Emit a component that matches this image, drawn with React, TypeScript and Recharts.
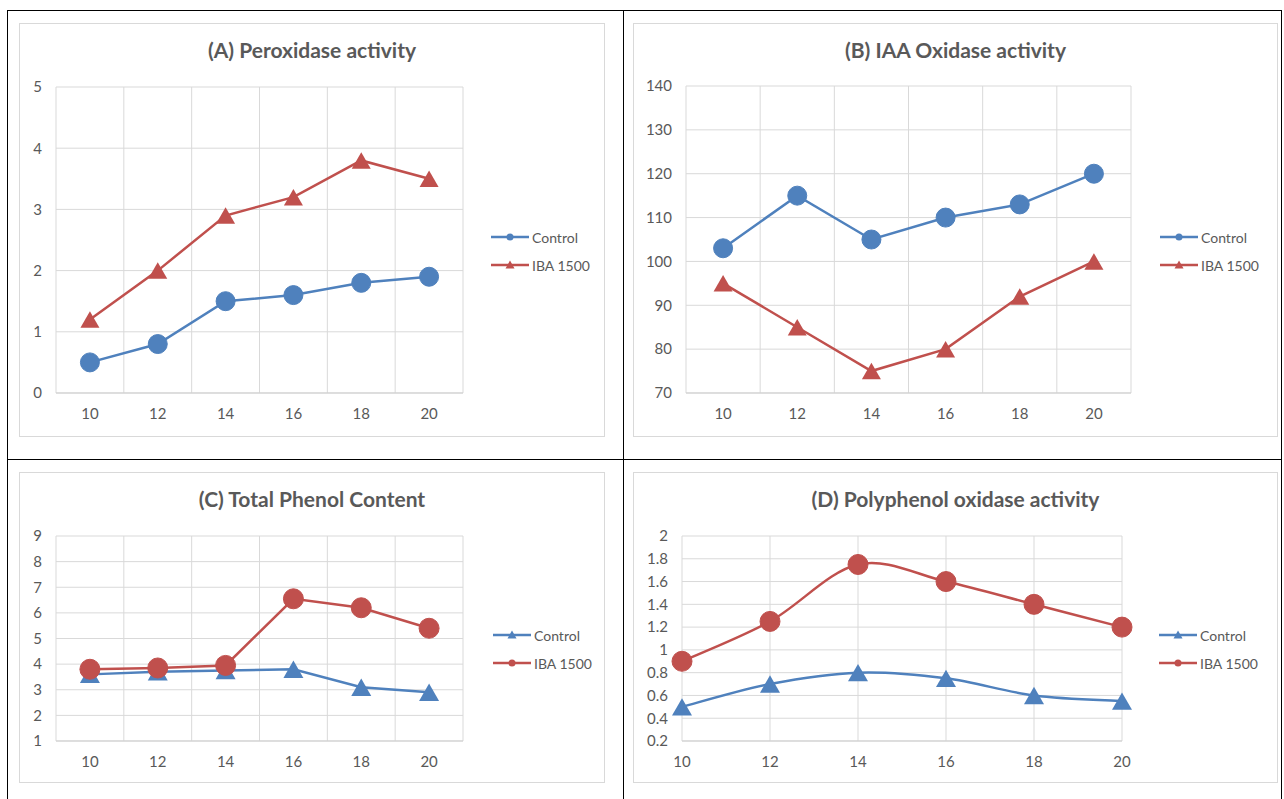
import { CartesianGrid, Legend, Line, LineChart, XAxis, YAxis } from 'recharts';

const days = [10, 12, 14, 16, 18, 20];

// (A) peroxidase
const peroxControl = [0.5, 0.8, 1.5, 1.6, 1.8, 1.9];
const peroxIba = [1.2, 2.0, 2.9, 3.2, 3.8, 3.5];
const peroxTicks = [0, 1, 2, 3, 4, 5];

// (B) IAA oxidase
const iaaControl = [103, 115, 105, 110, 113, 120];
const iaaIba = [95, 85, 75, 80, 92, 100];
const iaaTicks = [70, 80, 90, 100, 110, 120, 130, 140];

// (C) total phenol
const phenolControl = [3.6, 3.7, 3.75, 3.8, 3.1, 2.9];
const phenolIba = [3.8, 3.85, 3.95, 6.55, 6.2, 5.4];
const phenolTicks = [1, 2, 3, 4, 5, 6, 7, 8, 9];

// (D) polyphenol oxidase
const ppoControl = [0.5, 0.7, 0.8, 0.75, 0.6, 0.55];
const ppoIba = [0.9, 1.25, 1.75, 1.6, 1.4, 1.2];
const ppoTicks = [0.2, 0.4, 0.6, 0.8, 1.0, 1.2, 1.4, 1.6, 1.8, 2.0];

// gridlines sit between the categories (excel style) except in D
const bandEdges = [9, 11, 13, 15, 17, 19, 21];

const BLUE = '#4F81BD';
const RED = '#C0504D';
const TEXT = '#595959';
const GRID = '#D9D9D9';

// excel-ish smoothed line (catmull-rom as bezier)
const excelSmooth = (context: any) => {
  let pts: number[][] = [];
  return {
    areaStart() {},
    areaEnd() {},
    lineStart() {
      pts = [];
    },
    point(x: number, y: number) {
      pts.push([+x, +y]);
    },
    lineEnd() {
      if (!pts.length) return;
      context.moveTo(pts[0][0], pts[0][1]);
      for (let i = 0; i < pts.length - 1; i++) {
        const p0 = pts[Math.max(i - 1, 0)];
        const p1 = pts[i];
        const p2 = pts[i + 1];
        const p3 = pts[Math.min(i + 2, pts.length - 1)];
        context.bezierCurveTo(
          p1[0] + (p2[0] - p0[0]) / 6,
          p1[1] + (p2[1] - p0[1]) / 6,
          p2[0] - (p3[0] - p1[0]) / 6,
          p2[1] - (p3[1] - p1[1]) / 6,
          p2[0],
          p2[1]
        );
      }
    },
  };
};

type Shape = 'circle' | 'triangle';

const marker = (shape: Shape, color: string, size: number) => (props: any) => {
  const { cx, cy, index } = props;
  if (cx == null || cy == null) return <g key={index} />;
  if (shape === 'circle') {
    return <circle key={index} cx={cx} cy={cy} r={size / 2} fill={color} stroke={color} />;
  }
  const h = size * 0.87;
  const pts = `${cx},${cy - h / 2} ${cx - size / 2},${cy + h / 2} ${cx + size / 2},${cy + h / 2}`;
  return <polygon key={index} points={pts} fill={color} />;
};

type Series = { name: string; values: number[]; color: string; shape: Shape };

const LegendBox = ({ series }: { series: Series[] }) => (
  <div>
    {series.map((s) => (
      <div key={s.name} style={{ display: 'flex', alignItems: 'center', height: 28 }}>
        <svg width={38} height={14}>
          <line x1={0} y1={7} x2={38} y2={7} stroke={s.color} strokeWidth={2.5} />
          {s.shape === 'circle' ? (
            <circle cx={19} cy={7} r={3.5} fill={s.color} />
          ) : (
            <polygon points="19,2.5 14.5,10.5 23.5,10.5" fill={s.color} />
          )}
        </svg>
        <span style={{ fontSize: 14, color: TEXT, marginLeft: 3 }}>{s.name}</span>
      </div>
    ))}
  </div>
);

type PanelProps = {
  title: string;
  frame: { x: number; y: number; w: number; h: number };
  plot: { left: number; top: number; right: number; bottom: number };
  ticks: number[];
  series: Series[];
  band: boolean;
  smooth: boolean;
  legendPos: { left: number; top: number };
  markerSize: number;
};

const fmt = (v: number) => String(Math.round(v * 10) / 10);

const Panel = ({ title, frame, plot, ticks, series, band, smooth, legendPos, markerSize }: PanelProps) => {
  const yWidth = 30;
  const xHeight = 30;
  const rows = days.map((d, i) => {
    const row: any = { day: d };
    series.forEach((s) => (row[s.name] = s.values[i]));
    return row;
  });
  const xDomain = band ? [9, 21] : [10, 20];
  return (
    <div
      style={{
        position: 'absolute',
        left: frame.x,
        top: frame.y,
        width: frame.w,
        height: frame.h,
        background: '#fff',
        boxShadow: `inset 0 0 0 1px ${GRID}`,
      }}
    >
      <div
        style={{
          position: 'absolute',
          top: 14,
          width: '100%',
          textAlign: 'center',
          fontSize: 21,
          lineHeight: '26px',
          fontWeight: 700,
          color: TEXT,
        }}
      >
        {title}
      </div>
      <LineChart
        width={frame.w}
        height={frame.h}
        data={rows}
        margin={{
          top: plot.top - frame.y,
          left: plot.left - frame.x - yWidth,
          right: frame.x + frame.w - plot.right,
          bottom: frame.y + frame.h - plot.bottom - xHeight,
        }}
      >
        <CartesianGrid xAxisId="grid" stroke={GRID} strokeWidth={1} />
        <XAxis
          dataKey="day"
          type="number"
          domain={xDomain}
          ticks={days}
          interval={0}
          height={xHeight}
          tickLine={false}
          tickMargin={9}
          axisLine={{ stroke: '#CFCFCF' }}
          tick={{ fill: TEXT, fontSize: 15 }}
        />
        <XAxis xAxisId="grid" dataKey="day" type="number" domain={xDomain} ticks={band ? bandEdges : days} hide />
        <YAxis
          width={yWidth}
          domain={[ticks[0], ticks[ticks.length - 1]]}
          ticks={ticks}
          interval={0}
          axisLine={false}
          tickLine={false}
          tickMargin={8}
          tickFormatter={fmt}
          tick={{ fill: TEXT, fontSize: 15 }}
        />
        <Legend
          layout="vertical"
          align="center"
          verticalAlign="middle"
          wrapperStyle={{ left: legendPos.left, top: legendPos.top, width: 'auto' }}
          content={() => <LegendBox series={series} />}
        />
        {series.map((s) => (
          <Line
            key={s.name}
            dataKey={s.name}
            type={smooth ? (excelSmooth as any) : 'linear'}
            stroke={s.color}
            strokeWidth={2.5}
            dot={marker(s.shape, s.color, markerSize)}
            activeDot={false}
            isAnimationActive={false}
          />
        ))}
      </LineChart>
    </div>
  );
};

const rule = (style: any) => <div style={{ position: 'absolute', background: '#000', ...style }} />;

export default function App() {
  return (
    <div
      style={{
        position: 'absolute',
        left: 0,
        top: 0,
        width: 1284,
        height: 799,
        overflow: 'hidden',
        background: '#fff',
        fontFamily: 'Lato, "Open Sans", sans-serif',
      }}
    >
      {rule({ left: 7, top: 10, width: 1275, height: 1 })}
      {rule({ left: 7, top: 459, width: 1275, height: 1 })}
      {rule({ left: 7, top: 10, width: 1, height: 789 })}
      {rule({ left: 623, top: 10, width: 1, height: 789 })}
      {rule({ left: 1281, top: 10, width: 1, height: 789 })}

      <Panel
        title="(A) Peroxidase activity"
        frame={{ x: 19, y: 23, w: 586, h: 414 }}
        plot={{ left: 56, top: 87, right: 463, bottom: 393 }}
        ticks={peroxTicks}
        band
        smooth={false}
        markerSize={19}
        legendPos={{ left: 472, top: 200 }}
        series={[
          { name: 'Control', values: peroxControl, color: BLUE, shape: 'circle' },
          { name: 'IBA 1500', values: peroxIba, color: RED, shape: 'triangle' },
        ]}
      />
      <Panel
        title="(B) IAA Oxidase activity"
        frame={{ x: 633, y: 23, w: 645, h: 414 }}
        plot={{ left: 686, top: 86, right: 1131, bottom: 393 }}
        ticks={iaaTicks}
        band
        smooth={false}
        markerSize={19}
        legendPos={{ left: 527, top: 200 }}
        series={[
          { name: 'Control', values: iaaControl, color: BLUE, shape: 'circle' },
          { name: 'IBA 1500', values: iaaIba, color: RED, shape: 'triangle' },
        ]}
      />
      <Panel
        title="(C) Total Phenol Content"
        frame={{ x: 19, y: 472, w: 586, h: 311 }}
        plot={{ left: 56, top: 536, right: 463, bottom: 741 }}
        ticks={phenolTicks}
        band
        smooth={false}
        markerSize={20}
        legendPos={{ left: 474, top: 149 }}
        series={[
          { name: 'Control', values: phenolControl, color: BLUE, shape: 'triangle' },
          { name: 'IBA 1500', values: phenolIba, color: RED, shape: 'circle' },
        ]}
      />
      <Panel
        title="(D) Polyphenol oxidase activity"
        frame={{ x: 633, y: 472, w: 645, h: 311 }}
        plot={{ left: 682, top: 536, right: 1122, bottom: 741 }}
        ticks={ppoTicks}
        band={false}
        smooth
        markerSize={20}
        legendPos={{ left: 526, top: 149 }}
        series={[
          { name: 'Control', values: ppoControl, color: BLUE, shape: 'triangle' },
          { name: 'IBA 1500', values: ppoIba, color: RED, shape: 'circle' },
        ]}
      />
    </div>
  );
}
